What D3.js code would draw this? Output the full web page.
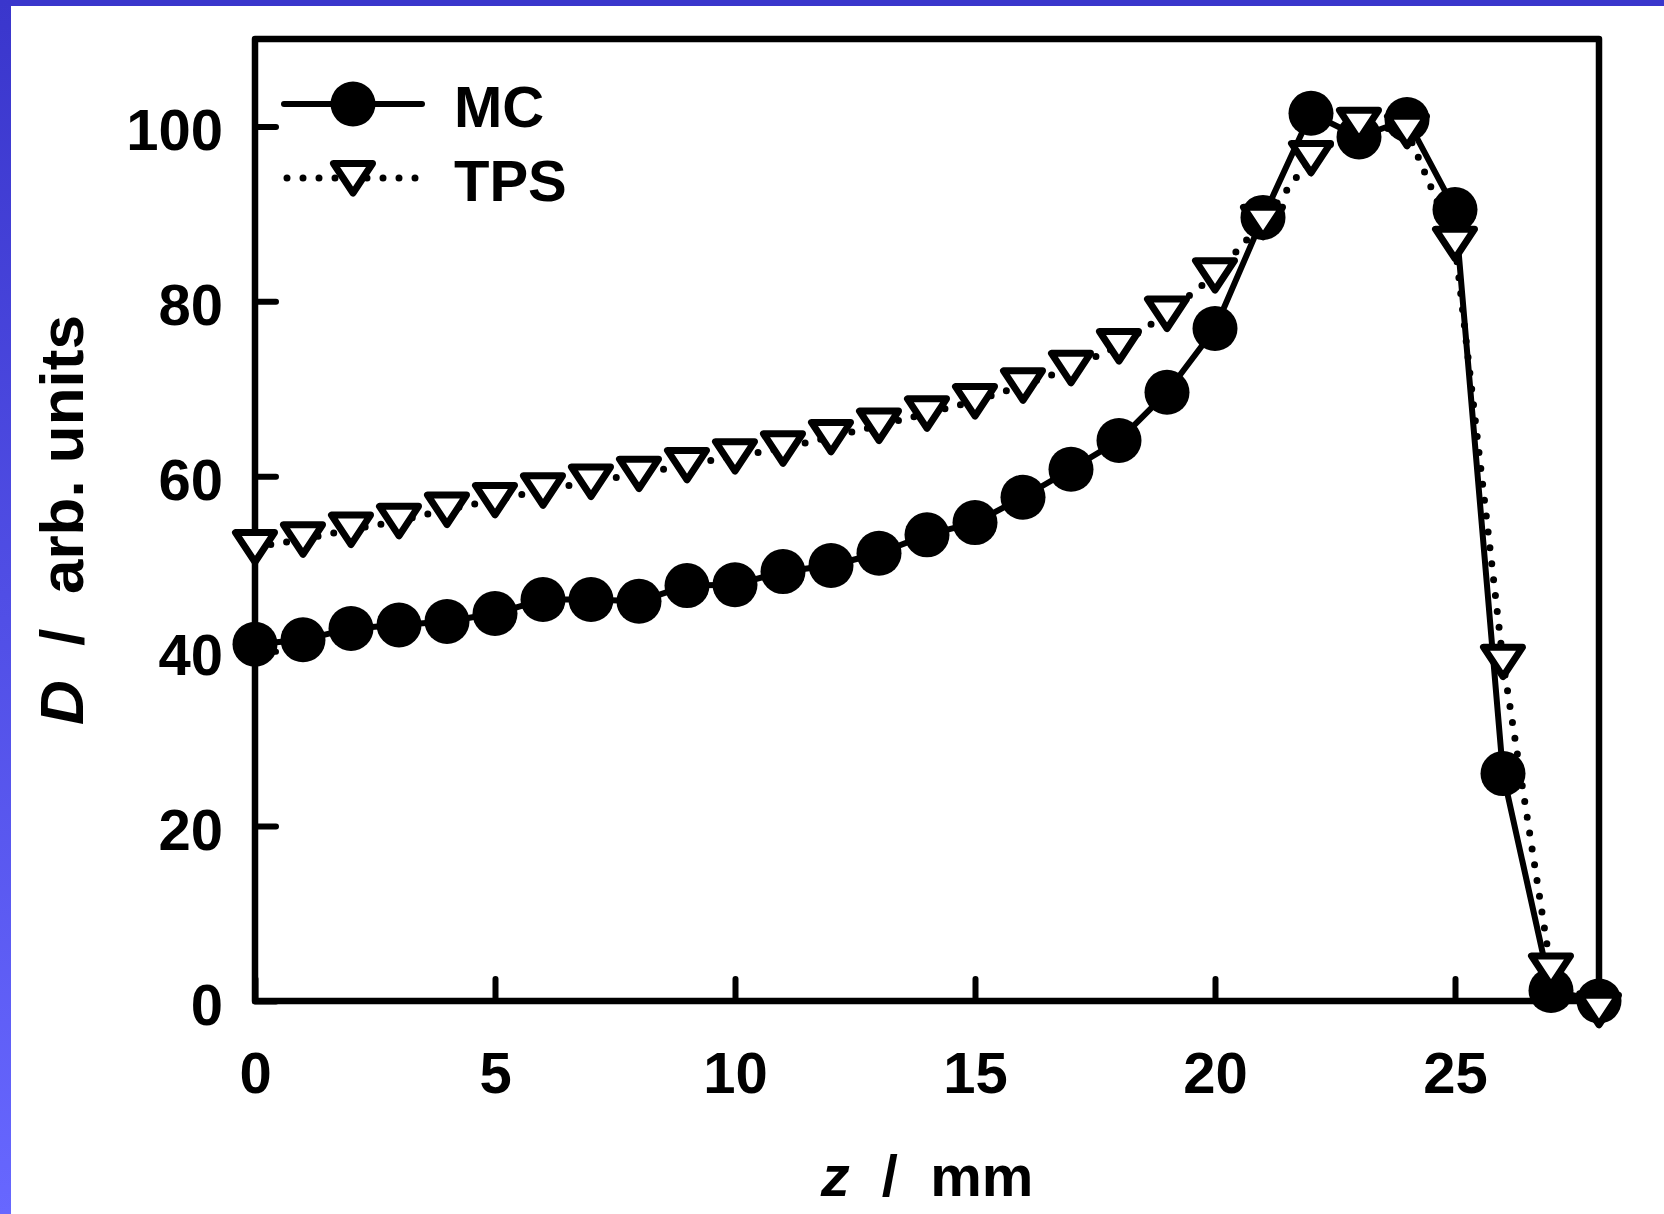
<!DOCTYPE html>
<html>
<head>
<meta charset="utf-8">
<script src="https://cdn.jsdelivr.net/npm/d3@7"></script>
<style>
  body { margin: 0; background: #fff; }
  svg { display: block; }
  text { font-family: "Liberation Sans", Arial, sans-serif; font-weight: bold; fill: #000; }
</style>
</head>
<body>
<script>
// depth in mm
const depth = [0, 1, 2, 3, 4, 5, 6, 7, 8, 9, 10, 11, 12, 13, 14, 15, 16, 17, 18, 19, 20, 21, 22, 23, 24, 25, 26, 27, 28];
// dose, arb. units
const mcDose = [40.8, 41.3, 42.6, 43.0, 43.4, 44.3, 45.9, 45.9, 45.7, 47.5, 47.6, 49.1, 49.8, 51.2, 53.3, 54.7, 57.6, 60.8, 64.1, 69.6, 76.9, 89.6, 101.5, 98.8, 100.8, 90.5, 26.0, 1.2, 0];
const tpsDose = [51.9, 52.8, 53.9, 54.9, 56.2, 57.3, 58.4, 59.4, 60.3, 61.3, 62.3, 63.2, 64.5, 65.8, 67.2, 68.6, 70.4, 72.4, 74.9, 78.6, 83.0, 89.1, 96.4, 100.2, 99.5, 86.6, 38.8, 3.5, -1];
const xTicks = [0, 5, 10, 15, 20, 25];
const yTicks = [0, 20, 40, 60, 80, 100];
const seriesNames = ["MC", "TPS"];

const W = 1664, H = 1214;
const margin = {left: 255, top: 39, right: 65, bottom: 213};
const w = W - margin.left - margin.right;
const h = H - margin.top - margin.bottom;

var svg = d3.select("body").append("svg")
    .attr("width", W)
    .attr("height", H);

// blue slide border
var defs = svg.append("defs");
var grad = defs.append("linearGradient")
    .attr("id", "side").attr("x1", 0).attr("y1", 0).attr("x2", 0).attr("y2", 1);
grad.append("stop").attr("offset", 0).attr("stop-color", "#3a36cc");
grad.append("stop").attr("offset", 1).attr("stop-color", "#6767ff");
svg.append("rect").attr("x", 0).attr("y", 0).attr("width", W).attr("height", 6).attr("fill", "#3a36cc");
svg.append("rect").attr("x", 0).attr("y", 0).attr("width", 11).attr("height", H).attr("fill", "url(#side)");

var x = d3.scaleLinear().domain([0, 28]).range([0, w]);
var y = d3.scaleLinear().domain([0, 110]).range([h, 0]);

var g = svg.append("g")
    .attr("transform", `translate(${margin.left}, ${margin.top})`);

// axes, ticks point inward
var xAxis = g.append("g")
    .attr("transform", `translate(0, ${h})`)
    .call(d3.axisBottom(x).tickValues(xTicks).tickSize(-22).tickPadding(51).tickFormat(d3.format("d")));
var yAxis = g.append("g")
    .call(d3.axisLeft(y).tickValues(yTicks).tickSize(-21).tickPadding(32).tickFormat(d3.format("d")));

[xAxis, yAxis].forEach(a => {
    a.select(".domain").remove();
    a.selectAll(".tick line").attr("stroke", "#000").attr("stroke-width", 6).attr("stroke-linecap", "round");
    a.selectAll(".tick text").attr("font-size", 58).attr("font-family", null);
});
yAxis.selectAll(".tick text").attr("dy", "0.40em");

g.append("rect")
    .attr("width", w).attr("height", h)
    .attr("fill", "none").attr("stroke", "#000").attr("stroke-width", 6.5)
    .attr("stroke-linejoin", "round");

// axis titles
svg.append("text")
    .attr("x", margin.left + w / 2).attr("y", 1196)
    .attr("text-anchor", "middle").attr("font-size", 58)
    .attr("xml:space", "preserve")
    .call(t => {
        t.append("tspan").attr("font-style", "italic").text("z");
        t.append("tspan").text("  /  mm");
    });

svg.append("text")
    .attr("transform", `translate(83, ${margin.top + h / 2}) rotate(-90)`)
    .attr("text-anchor", "middle").attr("font-size", 62)
    .attr("xml:space", "preserve")
    .call(t => {
        t.append("tspan").attr("font-style", "italic").text("D");
        t.append("tspan").text("  /  arb. units");
    });

var line = d3.line().x((d, i) => x(depth[i])).y(d => y(d));
var triangle = "M-19.5,-14.5L19.5,-14.5L0,15Z";

// MC
g.append("path")
    .datum(mcDose)
    .attr("d", line)
    .attr("fill", "none").attr("stroke", "#000").attr("stroke-width", 6)
    .attr("stroke-linejoin", "round");
g.selectAll(".mc")
    .data(mcDose)
    .enter().append("circle")
    .attr("class", "mc")
    .attr("cx", (d, i) => x(depth[i]))
    .attr("cy", d => y(d))
    .attr("r", 22.5)
    .attr("fill", "#000");

// TPS
g.append("path")
    .datum(tpsDose)
    .attr("d", line)
    .attr("fill", "none").attr("stroke", "#000").attr("stroke-width", 7)
    .attr("stroke-linecap", "round").attr("stroke-dasharray", "0,16");
g.selectAll(".tps")
    .data(tpsDose)
    .enter().append("path")
    .attr("class", "tps")
    .attr("d", triangle)
    .attr("transform", (d, i) => `translate(${x(depth[i])}, ${y(d)})`)
    .attr("fill", "#fff").attr("stroke", "#000").attr("stroke-width", 7)
    .attr("stroke-linejoin", "round");

// legend
var legend = svg.append("g").attr("transform", "translate(284, 104)");
seriesNames.forEach((name, i) => {
    var row = legend.append("g").attr("transform", `translate(0, ${i * 74})`);
    var l = row.append("line").attr("x1", 0).attr("x2", 138).attr("stroke", "#000");
    if (i === 0) {
        l.attr("stroke-width", 6).attr("stroke-linecap", "round");
        row.append("circle").attr("cx", 69).attr("r", 22.5).attr("fill", "#000");
    } else {
        l.attr("x1", 3).attr("stroke-width", 7).attr("stroke-linecap", "round").attr("stroke-dasharray", "0,16");
        row.append("path").attr("d", triangle).attr("transform", "translate(69, 0)")
            .attr("fill", "#fff").attr("stroke", "#000").attr("stroke-width", 7).attr("stroke-linejoin", "round");
    }
    row.append("text").attr("x", 170).attr("y", 23).attr("font-size", 58).text(name);
});
</script>
</body>
</html>
